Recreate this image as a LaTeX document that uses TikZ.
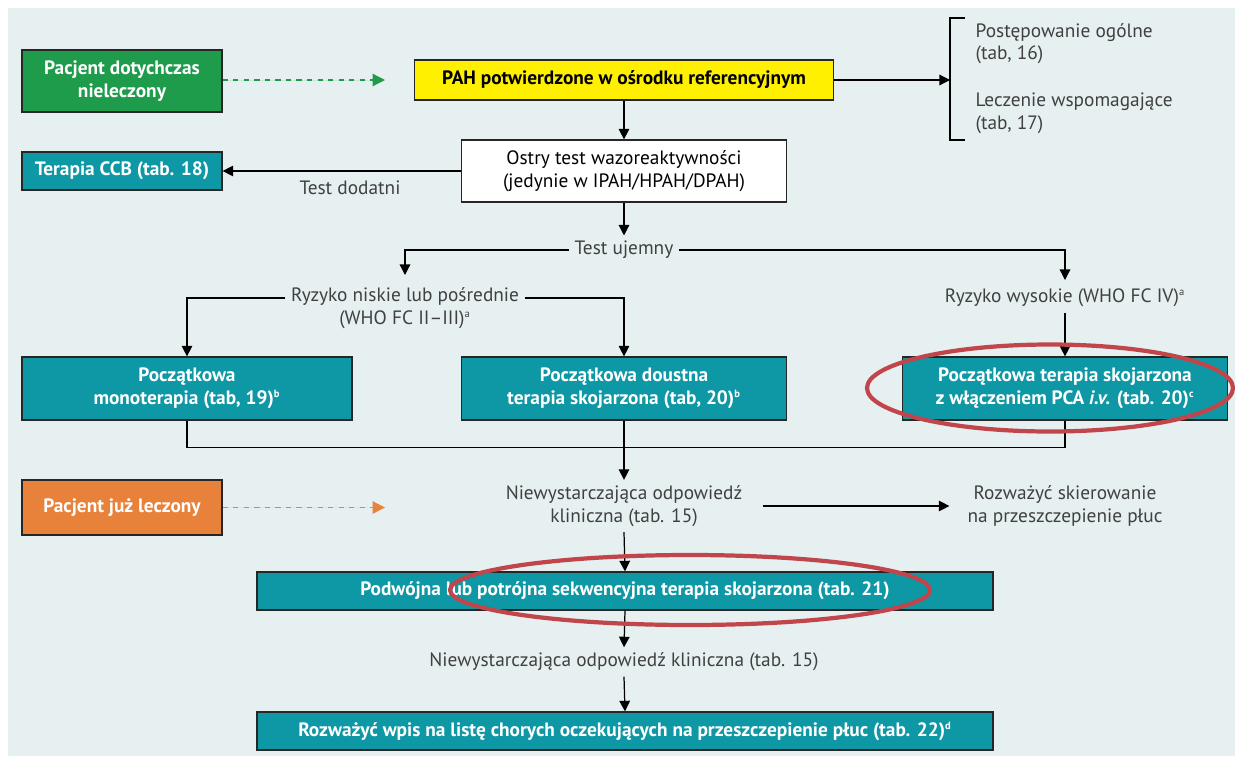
\documentclass[tikz,border=0pt]{standalone}
\usepackage{fontspec}
\setmainfont{PT Sans}
\usetikzlibrary{positioning,arrows.meta,calc}

\definecolor{panelbg}{HTML}{E6F0F1}
\definecolor{boxteal}{HTML}{0E97A4}
\definecolor{boxgreen}{HTML}{1E9B4B}
\definecolor{boxorange}{HTML}{E8823A}
\definecolor{boxyellow}{HTML}{FFF000}
\definecolor{ringred}{HTML}{C0464B}
\definecolor{greytext}{HTML}{404040}

\newcommand{\fnmark}[1]{\textsuperscript{\fontsize{6}{6}\selectfont #1}}

\tikzset{
  box/.style={draw=black!85, line width=0.7pt, align=center, inner sep=2pt,
    font=\fontsize{11}{13}\selectfont},
  tealbox/.style={box, fill=boxteal, text=white, font=\fontsize{11}{13}\selectfont\bfseries},
  label/.style={align=center, text=greytext, inner sep=3pt, font=\fontsize{11}{13}\selectfont},
  arr/.style={-{Triangle[length=6pt,width=6pt]}, line width=0.7pt},
  dasharr/.style={-{Triangle[length=7pt,width=7pt]}, dashed, line width=0.7pt},
  ring/.style={draw=ringred, line width=2.4pt}
}

\begin{document}
\begin{tikzpicture}
    \useasboundingbox (0,0) rectangle (24.7,-15.12);
    \fill[panelbg] (0.16,-0.16) rectangle (24.7,-15.12);

    % top row
    \node[box, fill=boxgreen, text=white, font=\fontsize{11}{13}\selectfont\bfseries,
      minimum width=4cm, minimum height=1.24cm] (naive) at (2.44,-1.62) {Pacjent dotychczas\\nieleczony};
    \node[box, fill=boxyellow, font=\fontsize{11}{13}\selectfont\bfseries,
      minimum width=8.38cm, minimum height=0.8cm] (pah) at (12.48,-1.6) {PAH potwierdzone w ośrodku referencyjnym};
    \coordinate (naiveend) at (7.7,-1.6);
    \draw[dasharr, draw=boxgreen, fill=boxgreen] (naive.east |- naiveend) -- (naiveend);

    % bracket on the right
    \coordinate (brtop) at (19.0,-0.36);
    \coordinate (brbot) at (19.0,-2.8);
    \coordinate (brmid) at (19.0,-1.6);
    \draw[line width=0.7pt] ($(brtop)+(0.3,0)$) -- (brtop) -- (brbot) -- ($(brbot)+(0.3,0)$);
    \draw[arr] (pah.east) -- (brmid);
    \node[label, align=left, anchor=north west] (general) at (19.4,-0.35) {Postępowanie ogólne\\(tab, 16)};
    \node[label, align=left, anchor=north west] (support) at (19.4,-1.75) {Leczenie wspomagające\\(tab, 17)};

    % vasoreactivity test
    \node[box, fill=white, minimum width=6.5cm, minimum height=1.24cm] (vaso) at (12.48,-3.42)
      {Ostry test wazoreaktywności\\(jedynie w IPAH/HPAH/DPAH)};
    \node[tealbox, minimum width=4cm, minimum height=0.76cm] (ccb) at (2.44,-3.42) {Terapia CCB (tab. 18)};
    \draw[arr] (pah.south) -- (vaso.north);
    \draw[arr] (vaso.west) -- (ccb.east);
    \node[label] (pos) at (7.0,-3.76) {Test dodatni};

    % negative test and risk
    \node[label] (neg) at (12.48,-5.0) {Test ujemny};
    \node[label] (lowrisk) at (8.1,-6.16) {Ryzyko niskie lub pośrednie\\(WHO FC II--III)\fnmark{a}};
    \node[label] (highrisk) at (21.3,-5.96) {Ryzyko wysokie (WHO FC IV)\fnmark{a}};
    \draw[arr] (vaso.south) -- (neg.north);
    \draw[arr] (neg.west) -| (8.1,-5.5);
    \draw[arr] (neg.east) -| (21.3,-5.6);

    \node[tealbox, minimum width=6.6cm, minimum height=1.26cm] (mono) at (3.74,-7.77)
      {Początkowa\\monoterapia (tab, 19)\fnmark{b}};
    \node[tealbox, minimum width=6.5cm, minimum height=1.26cm] (oral) at (12.48,-7.77)
      {Początkowa doustna\\terapia skojarzona (tab, 20)\fnmark{b}};
    \node[tealbox, minimum width=6.5cm, minimum height=1.26cm] (pca) at (21.3,-7.77)
      {Początkowa terapia skojarzona\\z włączeniem PCA \textit{i.v.} (tab. 20)\fnmark{c}};
    \draw[arr] ($(lowrisk.west)+(0,0.2)$) -| (mono.north);
    \draw[arr] ($(lowrisk.east)+(0,0.2)$) -| (oral.north);
    \draw[arr] (highrisk.south) -- (pca.north);

    % merging lines
    \draw[line width=0.7pt] (mono.south) -- ++(0,-0.54) -| (pca.south);

    % already treated
    \node[box, fill=boxorange, text=white, font=\fontsize{11}{13}\selectfont\bfseries,
      minimum width=4cm, minimum height=1.1cm] (treated) at (2.44,-10.15) {Pacjent już leczony};
    \coordinate (treatedend) at (7.7,-10.15);
    \draw[dasharr, draw=boxorange, fill=boxorange] (treated.east) -- (treatedend);

    \node[label] (resp1) at (12.48,-10.12) {Niewystarczająca odpowiedź\\kliniczna (tab. 15)};
    \node[label] (refer) at (21.3,-10.12) {Rozważyć skierowanie\\na przeszczepienie płuc};
    \draw[arr] (oral.south) -- (resp1.north);
    \draw[arr] ($(resp1.east)+(0.3,0)$) -- ($(refer.west)+(-0.25,0)$);

    % sequential therapy
    \node[tealbox, minimum width=14.72cm, minimum height=0.76cm] (seq) at (12.5,-11.82)
      {Podwójna lub potrójna sekwencyjna terapia skojarzona (tab. 21)};
    \draw[arr] (resp1.south) -- (seq.north);
    \node[label] (resp2) at (12.48,-13.24) {Niewystarczająca odpowiedź kliniczna (tab. 15)};
    \draw[arr] (seq.south) -- (resp2.north);
    \node[tealbox, minimum width=14.72cm, minimum height=0.76cm] (list) at (12.5,-14.62)
      {Rozważyć wpis na listę chorych oczekujących na przeszczepienie płuc (tab. 22)\fnmark{d}};
    \draw[arr] (resp2.south) -- (list.north);

    % red rings
    \draw[ring] (21.0,-7.76) ellipse (3.66cm and 0.87cm);
    \draw[ring] (13.8,-11.8) ellipse (4.8cm and 0.7cm);
\end{tikzpicture}
\end{document}
